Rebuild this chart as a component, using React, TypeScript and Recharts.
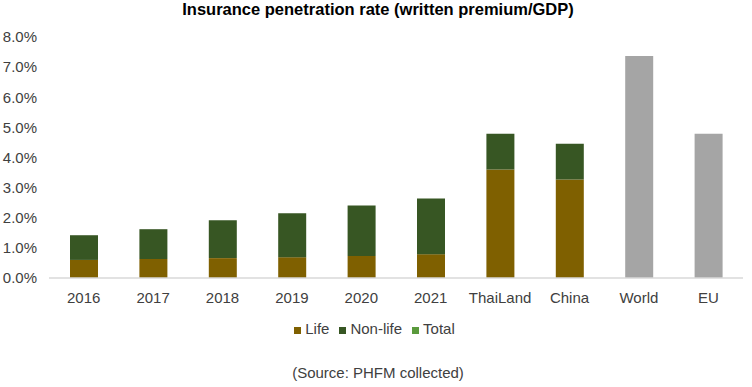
import { Bar, BarChart, Cell, Legend, XAxis, YAxis } from "recharts";

const categories = ["2016", "2017", "2018", "2019", "2020", "2021", "ThaiLand", "China", "World", "EU"];
const life = [0.6, 0.63, 0.66, 0.69, 0.73, 0.79, 3.6, 3.27, null, null];
const nonLife = [0.82, 0.99, 1.26, 1.46, 1.68, 1.85, 1.19, 1.19, null, null];
const total = [null, null, null, null, null, null, null, null, 7.37, 4.79];
const yTicks = [0, 1, 2, 3, 4, 5, 6, 7, 8];

const data = categories.map((name, i) => ({
  name,
  life: life[i],
  nonLife: nonLife[i],
  total: total[i],
}));

const font = "Arial, 'Liberation Sans', sans-serif";
const textColor = "#404040";

export default function App() {
  return (
    <div
      style={{
        position: "absolute",
        left: 0,
        top: 0,
        width: 752,
        height: 387,
        background: "#fff",
        fontFamily: font,
      }}
    >
      <div
        style={{
          position: "absolute",
          top: 0,
          left: 0,
          width: 756,
          textAlign: "center",
          fontWeight: "bold",
          fontSize: 16.5,
          color: "#000",
        }}
      >
        Insurance penetration rate (written premium/GDP)
      </div>
      <BarChart
        width={752}
        height={387}
        data={data}
        margin={{ top: 37, right: 9, left: 0, bottom: 50 }}
        style={{ fontFamily: font }}
      >
        <XAxis
          dataKey="name"
          tickLine={false}
          axisLine={{ stroke: "#D9D9D9", strokeWidth: 1.5 }}
          tick={{ fill: textColor, fontSize: 15 }}
          tickMargin={8}
          height={42}
          interval={0}
        />
        <YAxis
          domain={[0, 8]}
          ticks={yTicks}
          tickFormatter={(v) => `${v.toFixed(1)}%`}
          tickLine={false}
          axisLine={false}
          tick={{ fill: textColor, fontSize: 15 }}
          tickSize={0}
          tickMargin={12}
          width={49}
        />
        <Legend
          verticalAlign="bottom"
          iconType="square"
          iconSize={7}
          wrapperStyle={{ fontSize: 15, color: textColor, left: 8 }}
          formatter={(value) => <span style={{ color: textColor }}>{value}</span>}
        />
        <Bar dataKey="life" name="Life" stackId="a" fill="#7F6000" barSize={28} isAnimationActive={false} />
        <Bar dataKey="nonLife" name="Non-life" stackId="a" fill="#375623" barSize={28} isAnimationActive={false} />
        <Bar dataKey="total" name="Total" stackId="a" fill="#5A9A3C" barSize={28} isAnimationActive={false}>
          {data.map((d) => (
            <Cell key={d.name} fill="#A5A5A5" />
          ))}
        </Bar>
      </BarChart>
      <div
        style={{
          position: "absolute",
          top: 364,
          left: 0,
          width: 756,
          textAlign: "center",
          fontSize: 15,
          color: textColor,
        }}
      >
        (Source: PHFM collected)
      </div>
    </div>
  );
}
